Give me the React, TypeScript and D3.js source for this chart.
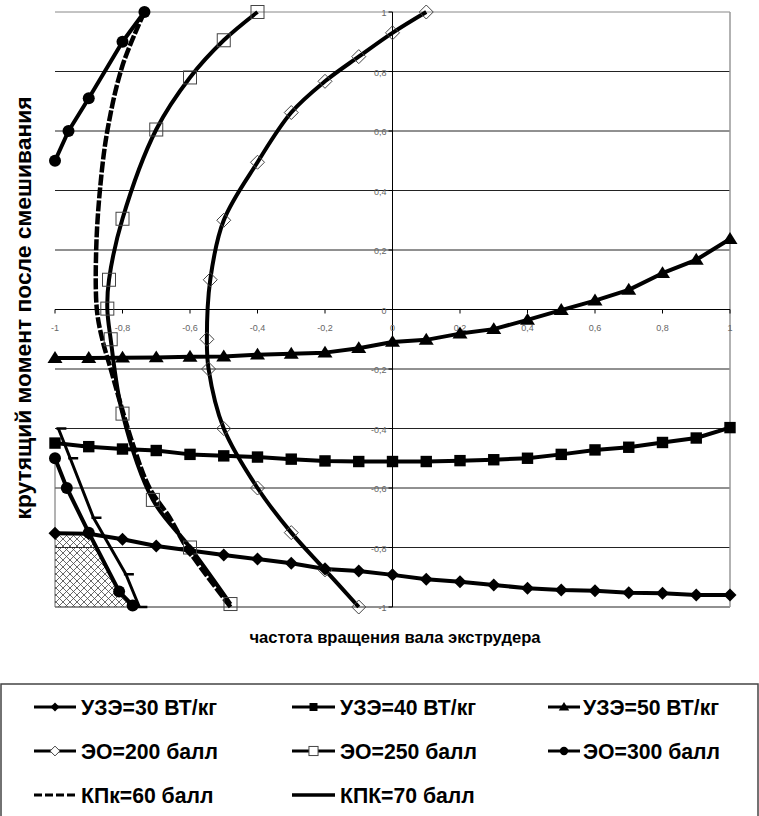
import * as React from 'react';
import * as d3 from 'd3';

// шаг частоты для серий УЗЭ
const xSteps = [-1, -0.9, -0.8, -0.7, -0.6, -0.5, -0.4, -0.3, -0.2, -0.1, 0, 0.1, 0.2, 0.3, 0.4, 0.5, 0.6, 0.7, 0.8, 0.9, 1];
const uze30 = [-0.752, -0.754, -0.772, -0.795, -0.81, -0.825, -0.839, -0.853, -0.872, -0.879, -0.892, -0.907, -0.915, -0.926, -0.937, -0.943, -0.945, -0.952, -0.954, -0.96, -0.96];
const uze40 = [-0.449, -0.461, -0.469, -0.474, -0.487, -0.492, -0.496, -0.503, -0.509, -0.511, -0.511, -0.511, -0.508, -0.505, -0.5, -0.487, -0.472, -0.463, -0.447, -0.432, -0.397];
const uze50 = [-0.163, -0.163, -0.162, -0.161, -0.159, -0.158, -0.152, -0.149, -0.145, -0.13, -0.109, -0.102, -0.081, -0.066, -0.035, -0.002, 0.03, 0.066, 0.122, 0.167, 0.237];

// ЭО / КПК - кривые x(y)
const eo200X = [0.1, 0, -0.1, -0.2, -0.3, -0.4, -0.5, -0.54, -0.55, -0.545, -0.5, -0.4, -0.3, -0.2, -0.1];
const eo200Y = [1, 0.93, 0.85, 0.767, 0.662, 0.495, 0.3, 0.1, -0.1, -0.2, -0.4, -0.6, -0.75, -0.875, -1];

const eo250X = [-0.4, -0.5, -0.6, -0.7, -0.8, -0.84, -0.845, -0.835, -0.8, -0.71, -0.6, -0.48];
const eo250Y = [1, 0.905, 0.78, 0.605, 0.305, 0.1, 0.003, -0.1, -0.35, -0.64, -0.8, -0.99];

const eo300TopX = [-1, -0.96, -0.9, -0.8, -0.735];
const eo300TopY = [0.5, 0.6, 0.71, 0.9, 1];
const eo300BotX = [-1, -0.965, -0.9, -0.81, -0.77];
const eo300BotY = [-0.5, -0.6, -0.75, -0.948, -0.995];

const kpk60X = [-0.735, -0.8, -0.845, -0.867, -0.878, -0.876, -0.86, -0.835, -0.81, -0.77, -0.72, -0.66, -0.61, -0.48];
const kpk60Y = [1, 0.82, 0.6, 0.4, 0.2, 0, -0.1, -0.2, -0.3, -0.45, -0.6, -0.7, -0.8, -1];

const kpk70X = [-0.99, -0.955, -0.886, -0.79, -0.75];
const kpk70Y = [-0.4, -0.5, -0.7, -0.89, -1];

const ticks = [-1, -0.8, -0.6, -0.4, -0.2, 0, 0.2, 0.4, 0.6, 0.8, 1];
const tickLabels = ['-1', '-0,8', '-0,6', '-0,4', '-0,2', '0', '0,2', '0,4', '0,6', '0,8', '1'];

const legendNames = ['УЗЭ=30 ВТ/кг', 'УЗЭ=40 ВТ/кг', 'УЗЭ=50 ВТ/кг', 'ЭО=200 балл', 'ЭО=250 балл', 'ЭО=300 балл', 'КПк=60 балл', 'КПК=70 балл'];

const zip = (a: number[], b: number[]) => a.map((v, i) => [v, b[i]] as [number, number]);

const App: React.FC = () => {
    const ref = React.useRef<SVGSVGElement>(null);

    React.useEffect(() => {
        const svg = d3.select(ref.current);
        svg.selectAll('*').remove();

        const x = d3.scaleLinear().domain([-1, 1]).range([55, 730]);
        const y = d3.scaleLinear().domain([-1, 1]).range([607, 12]);

        const defs = svg.append('defs');
        const pat = defs.append('pattern')
            .attr('id', 'hatch').attr('patternUnits', 'userSpaceOnUse')
            .attr('width', 7).attr('height', 7);
        pat.append('path').attr('d', 'M0,0L7,7M7,0L0,7').attr('stroke', '#444').attr('stroke-width', 0.8);

        // сетка
        ticks.forEach(t => {
            svg.append('line')
                .attr('x1', x(-1)).attr('x2', x(1)).attr('y1', y(t)).attr('y2', y(t))
                .attr('stroke', t === 1 ? '#888' : '#222').attr('stroke-width', 1);
        });
        svg.append('line').attr('x1', x(1)).attr('x2', x(1)).attr('y1', y(1)).attr('y2', y(-1))
            .attr('stroke', '#999').attr('stroke-width', 1.5);
        svg.append('line').attr('x1', x(-1)).attr('x2', x(-1)).attr('y1', y(eo300BotY[0])).attr('y2', y(-1))
            .attr('stroke', '#666').attr('stroke-width', 1);

        // оси
        svg.append('line').attr('x1', x(0)).attr('x2', x(0)).attr('y1', y(1)).attr('y2', y(-1)).attr('stroke', '#000');
        svg.append('line').attr('x1', x(-1)).attr('x2', x(1)).attr('y1', y(0)).attr('y2', y(0)).attr('stroke', '#000');
        ticks.forEach((t, i) => {
            svg.append('line').attr('x1', x(0) - 4).attr('x2', x(0)).attr('y1', y(t)).attr('y2', y(t)).attr('stroke', '#000');
            svg.append('line').attr('x1', x(t)).attr('x2', x(t)).attr('y1', y(0)).attr('y2', y(0) + 4).attr('stroke', '#000');
            svg.append('text').attr('x', x(0) - 6).attr('y', y(t) + 4)
                .attr('text-anchor', 'end').attr('font-family', 'Arial, Liberation Sans, sans-serif')
                .attr('font-size', 9).attr('fill', '#666').text(tickLabels[i]);
            svg.append('text').attr('x', x(t)).attr('y', y(0) + 21)
                .attr('text-anchor', 'middle').attr('font-family', 'Arial, Liberation Sans, sans-serif')
                .attr('font-size', 9).attr('fill', '#666').text(tickLabels[i]);
        });

        // заштрихованная область
        const hatchPts: [number, number][] = [
            [xSteps[0], uze30[0]], [xSteps[1], uze30[1]],
            ...zip(eo300BotX, eo300BotY).slice(2),
            [eo300BotX[eo300BotX.length - 1], -1], [-1, -1]
        ];
        svg.append('path')
            .attr('d', d3.line<[number, number]>().x(d => x(d[0])).y(d => y(d[1]))(hatchPts) + 'Z')
            .attr('fill', 'url(#hatch)').attr('stroke', 'none');

        const straight = d3.line<[number, number]>().x(d => x(d[0])).y(d => y(d[1]));
        const smooth = d3.line<[number, number]>().x(d => x(d[0])).y(d => y(d[1])).curve(d3.curveCatmullRom.alpha(0.5));

        const drawLine = (pts: [number, number][], gen: any, w: number, dash?: string) => {
            svg.append('path').attr('d', gen(pts)).attr('fill', 'none')
                .attr('stroke', '#000').attr('stroke-width', w)
                .attr('stroke-linejoin', 'round')
                .attr('stroke-dasharray', dash || null);
        };

        const marker = (g: any, type: string, cx: number, cy: number, k: number) => {
            if (type === 'diamond') {
                const s = 6.5 * k;
                g.append('path').attr('d', `M${cx},${cy - s}L${cx + s},${cy}L${cx},${cy + s}L${cx - s},${cy}Z`).attr('fill', '#000');
            } else if (type === 'square') {
                const s = 5.7 * k;
                g.append('rect').attr('x', cx - s).attr('y', cy - s).attr('width', 2 * s).attr('height', 2 * s).attr('fill', '#000');
            } else if (type === 'triangle') {
                const w = 7.5 * k, h = 7 * k;
                g.append('path').attr('d', `M${cx},${cy - h}L${cx + w},${cy + h * 0.7}L${cx - w},${cy + h * 0.7}Z`).attr('fill', '#000');
            } else if (type === 'circle') {
                g.append('circle').attr('cx', cx).attr('cy', cy).attr('r', 6 * k).attr('fill', '#000');
            } else if (type === 'odiamond') {
                const s = 7 * k;
                g.append('path').attr('d', `M${cx},${cy - s}L${cx + s},${cy}L${cx},${cy + s}L${cx - s},${cy}Z`)
                    .attr('fill', k < 1 ? '#fff' : 'none').attr('stroke', '#444').attr('stroke-width', 1);
            } else if (type === 'osquare') {
                const s = 6.5 * k;
                g.append('rect').attr('x', cx - s).attr('y', cy - s).attr('width', 2 * s).attr('height', 2 * s)
                    .attr('fill', k < 1 ? '#fff' : 'none').attr('stroke', '#444').attr('stroke-width', 1);
            } else if (type === 'dash') {
                g.append('line').attr('x1', cx - 2).attr('x2', cx + 8).attr('y1', cy).attr('y2', cy)
                    .attr('stroke', '#000').attr('stroke-width', 2.5);
            }
        };

        const s30 = zip(xSteps, uze30);
        const s40 = zip(xSteps, uze40);
        const s50 = zip(xSteps, uze50);
        const s200 = zip(eo200X, eo200Y);
        const s250 = zip(eo250X, eo250Y);
        const s300a = zip(eo300TopX, eo300TopY);
        const s300b = zip(eo300BotX, eo300BotY);
        const s60 = zip(kpk60X, kpk60Y);
        const s70 = zip(kpk70X, kpk70Y);

        drawLine(s60, smooth, 4.5, '11 2');
        drawLine(s70, straight, 3);
        drawLine(s200, smooth, 4);
        drawLine(s250, smooth, 4);
        drawLine(s300a, straight, 4);
        drawLine(s300b, straight, 4);
        drawLine(s30, straight, 4);
        drawLine(s40, straight, 4);
        drawLine(s50, straight, 4);

        const mg = svg.append('g');
        s70.forEach(d => marker(mg, 'dash', x(d[0]), y(d[1]), 1));
        s200.forEach(d => marker(mg, 'odiamond', x(d[0]), y(d[1]), 1));
        s250.forEach(d => marker(mg, 'osquare', x(d[0]), y(d[1]), 1));
        s300a.concat(s300b).forEach(d => marker(mg, 'circle', x(d[0]), y(d[1]), 1));
        s30.forEach(d => marker(mg, 'diamond', x(d[0]), y(d[1]), 1));
        s40.forEach(d => marker(mg, 'square', x(d[0]), y(d[1]), 1));
        s50.forEach(d => marker(mg, 'triangle', x(d[0]), y(d[1]), 1));

        // подписи осей
        svg.append('text').attr('x', 395).attr('y', 643).attr('text-anchor', 'middle')
            .attr('font-family', 'Arial, Liberation Sans, sans-serif').attr('font-weight', 'bold')
            .attr('font-size', 16.6).text('частота вращения вала экструдера');
        svg.append('text').attr('transform', 'translate(31,308) rotate(-90)').attr('text-anchor', 'middle')
            .attr('font-family', 'Arial, Liberation Sans, sans-serif').attr('font-weight', 'bold')
            .attr('font-size', 22.8).text('крутящий момент после смешивания');

        // легенда
        svg.append('rect').attr('x', 1).attr('y', 684).attr('width', 757).attr('height', 200)
            .attr('fill', 'none').attr('stroke', '#444').attr('stroke-width', 1.5);
        const types = ['diamond', 'square', 'triangle', 'odiamond', 'osquare', 'circle', null, null];
        const colLine = [[34, 76], [292, 335], [548, 580]];
        const colText = [81, 340, 583];
        legendNames.forEach((name, i) => {
            const c = i % 3, r = Math.floor(i / 3);
            const cy = 707 + r * 44;
            const [a, b] = colLine[c];
            const lg = svg.append('g');
            lg.append('line').attr('x1', a).attr('x2', b).attr('y1', cy).attr('y2', cy)
                .attr('stroke', '#000').attr('stroke-width', i === 7 ? 3.5 : 3)
                .attr('stroke-dasharray', i === 6 ? '8 3' : null);
            if (types[i]) marker(lg, types[i] as string, (a + b) / 2, cy, 0.7);
            lg.append('text').attr('x', colText[c]).attr('y', cy + 8)
                .attr('font-family', 'Arial, Liberation Sans, sans-serif').attr('font-weight', 'bold')
                .attr('font-size', 21.2).text(name);
        });
    }, []);

    return (
        <svg ref={ref} width={759} height={816} style={{ position: 'absolute', left: 0, top: 0, background: '#fff' }} />
    );
};

export default App;
